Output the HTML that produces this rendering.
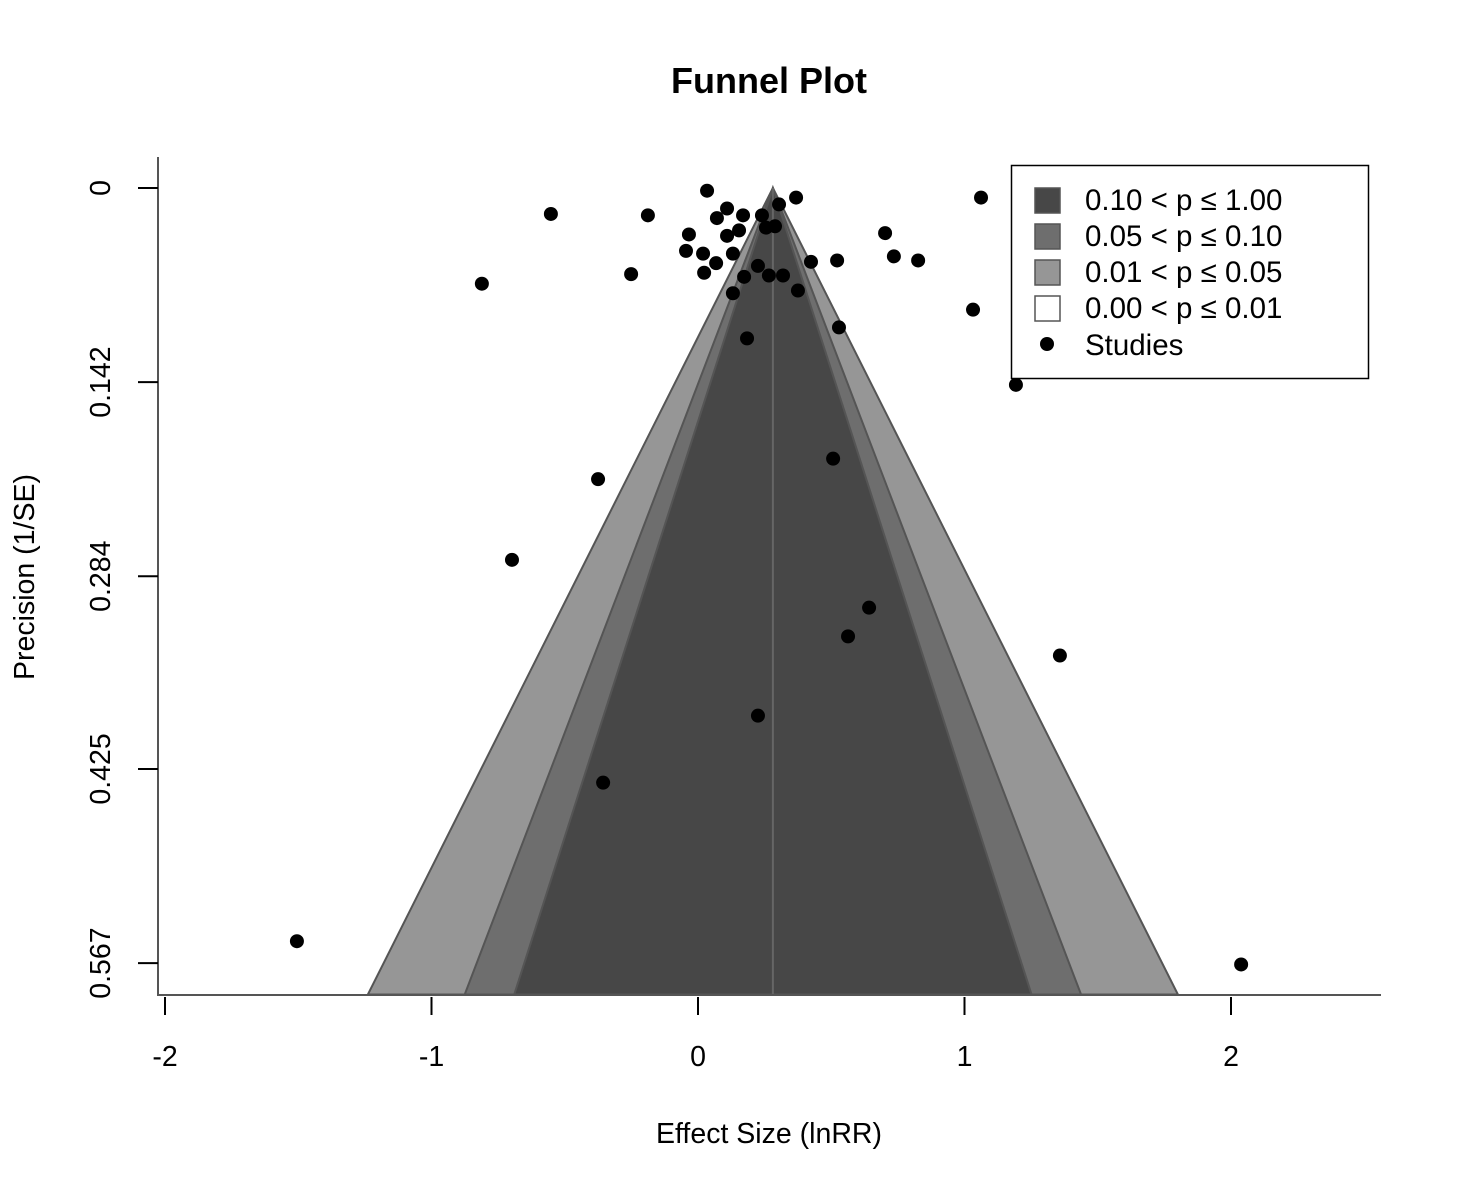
<!DOCTYPE html>
<html><head><meta charset="utf-8"><style>
body{margin:0;background:#fff}
svg{display:block;font-family:"Liberation Sans",Arial,sans-serif}
</style></head><body>
<svg id="chart" width="1462" height="1192" viewBox="0 0 1462 1192">
<text x="769" y="93" text-anchor="middle" font-size="36" font-weight="bold">Funnel Plot</text>
<g id="plot"></g>
<text x="769" y="1143" text-anchor="middle" font-size="28.5">Effect Size (lnRR)</text>
<text transform="translate(34,577) rotate(-90)" text-anchor="middle" font-size="28.5">Precision (1/SE)</text>
<g>
<rect x="1011.5" y="165.5" width="357" height="213" fill="#fff" stroke="#000" stroke-width="1.5"/>
<rect x="1035" y="188" width="25" height="25" fill="#474747" stroke="#555" stroke-width="1.5"/>
<rect x="1035" y="224" width="25" height="25" fill="#6e6e6e" stroke="#555" stroke-width="1.5"/>
<rect x="1035" y="260" width="25" height="25" fill="#969696" stroke="#555" stroke-width="1.5"/>
<rect x="1035" y="296" width="25" height="25" fill="#fff" stroke="#555" stroke-width="1.5"/>
<circle cx="1047" cy="344" r="7" fill="#000"/>
<g font-size="29.5">
<text x="1085" y="210">0.10 &lt; p ≤ 1.00</text>
<text x="1085" y="246">0.05 &lt; p ≤ 0.10</text>
<text x="1085" y="282">0.01 &lt; p ≤ 0.05</text>
<text x="1085" y="318">0.00 &lt; p ≤ 0.01</text>
<text x="1085" y="355">Studies</text>
</g>
</g>
</svg>
<script>
const effects=[0.034,0.368,0.109,0.304,-0.552,-0.188,0.071,0.169,0.240,0.289,0.255,0.154,-0.034,0.109,0.702,-0.045,0.019,0.131,0.068,0.735,0.826,0.424,0.522,0.225,-0.251,0.023,0.173,0.266,0.319,-0.811,0.131,0.375,1.062,1.032,0.529,0.184,1.193,0.507,-0.375,-0.698,0.642,0.563,1.358,0.225,-0.356,-1.505,2.038];
const ses=[0.002,0.007,0.015,0.012,0.019,0.020,0.022,0.020,0.020,0.028,0.029,0.031,0.034,0.035,0.033,0.046,0.048,0.048,0.055,0.050,0.053,0.054,0.053,0.057,0.063,0.062,0.065,0.064,0.064,0.070,0.077,0.075,0.007,0.089,0.102,0.110,0.144,0.198,0.213,0.272,0.307,0.328,0.342,0.386,0.435,0.551,0.568];
const xTicks=[-2,-1,0,1,2];
const yTicks=[0,0.142,0.284,0.425,0.567];
const yTickLabels=["0","0.142","0.284","0.425","0.567"];
const pooled=0.281;
const seMax=0.590;
const zCrit=[2.576,1.96,1.645];
const NS="http://www.w3.org/2000/svg";
const g=document.getElementById('plot');
const X=v=>698+v*266.5;
const Y=v=>188+v*1367;
function mk(t,a,parent){const e=document.createElementNS(NS,t);for(const k in a)e.setAttribute(k,a[k]);(parent||g).appendChild(e);return e;}
const fills=['#969696','#6e6e6e','#474747'];
const names=['funnel-p01','funnel-p05','funnel-p10'];
zCrit.forEach((z,i)=>{
  const hw=z*seMax;
  const p=mk('polygon',{points:`${X(pooled)},${Y(0)} ${X(pooled+hw)},${Y(seMax)} ${X(pooled-hw)},${Y(seMax)}`,fill:fills[i],stroke:'#555','stroke-width':2});
  
  
});
let el=mk('line',{x1:X(pooled),y1:Y(0),x2:X(pooled),y2:Y(seMax),stroke:'#666','stroke-width':2});


el=mk('line',{x1:158,y1:157,x2:158,y2:996,stroke:'#555','stroke-width':2});


el=mk('line',{x1:157,y1:995,x2:1381,y2:995,stroke:'#555','stroke-width':2});


xTicks.forEach(t=>{
  const l=mk('line',{x1:X(t),y1:997,x2:X(t),y2:1015,stroke:'#000','stroke-width':2});
  
  
  const tx=mk('text',{x:X(t),y:1066,'text-anchor':'middle','font-size':28.5});
  tx.textContent=String(t);
  
  
});
yTicks.forEach((t,i)=>{
  const l=mk('line',{x1:138,y1:Y(t),x2:158,y2:Y(t),stroke:'#000','stroke-width':2});
  
  
  const tx=mk('text',{transform:`translate(110,${Y(t)}) rotate(-90)`,'text-anchor':'middle','font-size':28.5});
  tx.textContent=yTickLabels[i];
  
  
});
effects.forEach((e,i)=>{
  const c=mk('circle',{cx:X(e),cy:Y(ses[i]),r:7,fill:'#000'});
  
  
});
</script>
</body></html>
